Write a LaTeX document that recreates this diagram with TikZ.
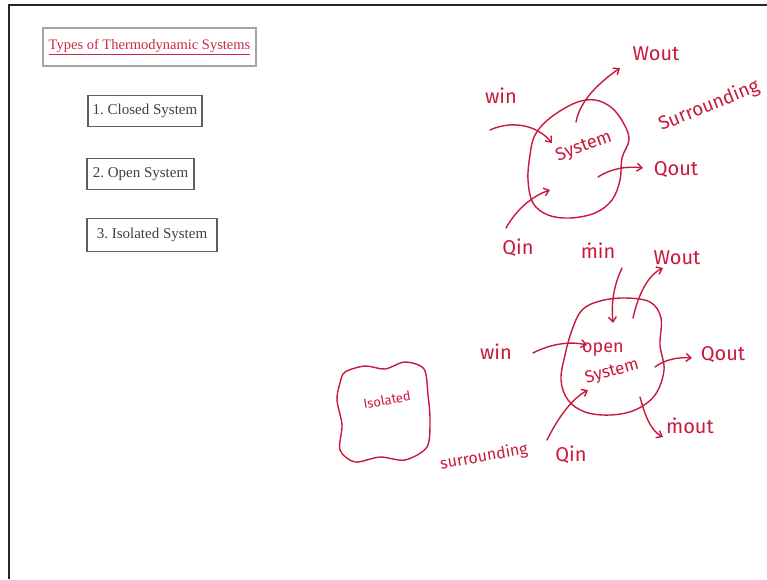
\documentclass[tikz,border=0pt]{standalone}
\usepackage{fontspec}
\setmainfont{Liberation Serif}
\newfontfamily\handfont{Fira Sans}
\usetikzlibrary{arrows.meta}
\definecolor{ink}{RGB}{200,25,60}
\definecolor{titlered}{RGB}{205,40,70}
\definecolor{boxgray}{RGB}{95,95,95}
\frenchspacing
\begin{document}
\begin{tikzpicture}[x=1pt,y=-1pt,
  listbox/.style={draw=boxgray,line width=1.2pt,fill=white,text=black!75,
    font=\fontsize{15}{17}\selectfont,inner sep=0pt},
  hand/.style={text=ink,font=\handfont\fontsize{20}{22}\selectfont,inner sep=1pt},
  stroke/.style={draw=ink,line width=1.4pt,line cap=round,line join=round},
  harrow/.style={stroke,-{Straight Barb[length=5pt,width=8pt,line width=1.4pt]}}]
\useasboundingbox (0,0) rectangle (767,579);
% page frame
\draw[line width=1.5pt,black!85] (9,579) -- (9,5) -- (767,5);
% left column
\node[draw=gray!70,line width=1.4pt,fill=white,minimum width=213pt,minimum height=38pt,inner sep=0pt,
  text=titlered,font=\fontsize{14.5}{16}\selectfont] (title) at (149.5,47) {\underline{Types of Thermodynamic Systems}};
\node[listbox,minimum width=114pt,minimum height=31pt] (closed) at (145,111) {1. Closed System};
\node[listbox,minimum width=107pt,minimum height=31pt] (open) at (140.5,174) {2. Open System};
\node[listbox,minimum width=130pt,minimum height=33pt] (isolated) at (152,235) {3. Isolated System};
% closed system sketch
\draw[stroke] plot[smooth cycle,tension=0.6] coordinates {(575,103) (595,100) (612,108) (624,124) (629,140) (622,158) (620,180) (612,200) (595,213) (570,218) (548,215) (533,203) (528,180) (530,155) (535,135) (550,118)};
\node[hand,rotate=20,font=\handfont\fontsize{18}{20}\selectfont] (sys) at (584,147) {System};
\node[hand] (win1) at (501,96) {win};
\node[hand] (wout1) at (656,54) {Wout};
\node[hand,rotate=22,font=\handfont\fontsize{19}{20}\selectfont] (surr1) at (709,106) {Surrounding};
\node[hand] (qout1) at (676,170) {Qout};
\node[hand] (qin1) at (518,248) {Qin};
\coordinate (w1s) at (490,130); \coordinate (w1e) at (552,143);
\draw[harrow] (w1s) .. controls (512,120) and (537,125) .. (w1e);
\coordinate (wo1s) at (576,122); \coordinate (wo1e) at (620,68);
\draw[harrow] (wo1s) .. controls (580,100) and (600,82) .. (wo1e);
\coordinate (qo1s) at (598,177); \coordinate (qo1e) at (643,168);
\draw[harrow] (qo1s) .. controls (612,168) and (628,166) .. (qo1e);
\coordinate (qi1s) at (506,228); \coordinate (qi1e) at (550,190);
\draw[harrow] (qi1s) .. controls (516,210) and (532,196) .. (qi1e);
% open system sketch
\draw[stroke] plot[smooth cycle,tension=0.6] coordinates {(600,301) (625,298) (650,302) (661,318) (660,345) (664,370) (655,395) (635,410) (610,415) (585,412) (568,400) (561,380) (565,355) (572,330) (582,310)};
\node[hand,font=\handfont\fontsize{18}{19}\selectfont] (opentx) at (603,350) {open};
\node[hand,rotate=15,font=\handfont\fontsize{17}{18}\selectfont] (systx) at (612,372) {System};
\node[hand] (min) at (598,251) {ṁin};
\node[hand] (wout2) at (677,258) {Wout};
\node[hand] (win2) at (496,352) {win};
\node[hand] (qout2) at (723,355) {Qout};
\node[hand] (mout) at (690,426) {ṁout};
\node[hand] (qin2) at (571,455) {Qin};
\node[hand,rotate=10,font=\handfont\fontsize{16}{17}\selectfont] (surr2) at (484,457) {surrounding};
\coordinate (mis) at (622,268); \coordinate (mie) at (613,323);
\draw[harrow] (mis) .. controls (614,285) and (611,302) .. (mie);
\coordinate (wo2s) at (633,318); \coordinate (wo2e) at (663,268);
\draw[harrow] (wo2s) .. controls (638,295) and (648,275) .. (wo2e);
\coordinate (wi2s) at (533,353); \coordinate (wi2e) at (587,345);
\draw[harrow] (wi2s) .. controls (550,344) and (570,341) .. (wi2e);
\coordinate (qo2s) at (655,367); \coordinate (qo2e) at (692,358);
\draw[harrow] (qo2s) .. controls (665,359) and (680,357) .. (qo2e);
\coordinate (mos) at (640,397); \coordinate (moe) at (663,437);
\draw[harrow] (mos) .. controls (645,415) and (650,430) .. (moe);
\coordinate (qi2s) at (547,440); \coordinate (qi2e) at (588,390);
\draw[harrow] (qi2s) .. controls (557,420) and (570,400) .. (qi2e);
% isolated sketch
\draw[stroke] plot[smooth cycle,tension=0.5] coordinates {(345,372) (365,366) (385,369) (405,362) (424,369) (428,395) (430,420) (427,447) (405,460) (380,457) (355,462) (340,450) (342,425) (337,400) (340,383)};
\node[hand,rotate=10,font=\handfont\fontsize{13}{14}\selectfont] (isotx) at (387,400) {Isolated};
\end{tikzpicture}
\end{document}
